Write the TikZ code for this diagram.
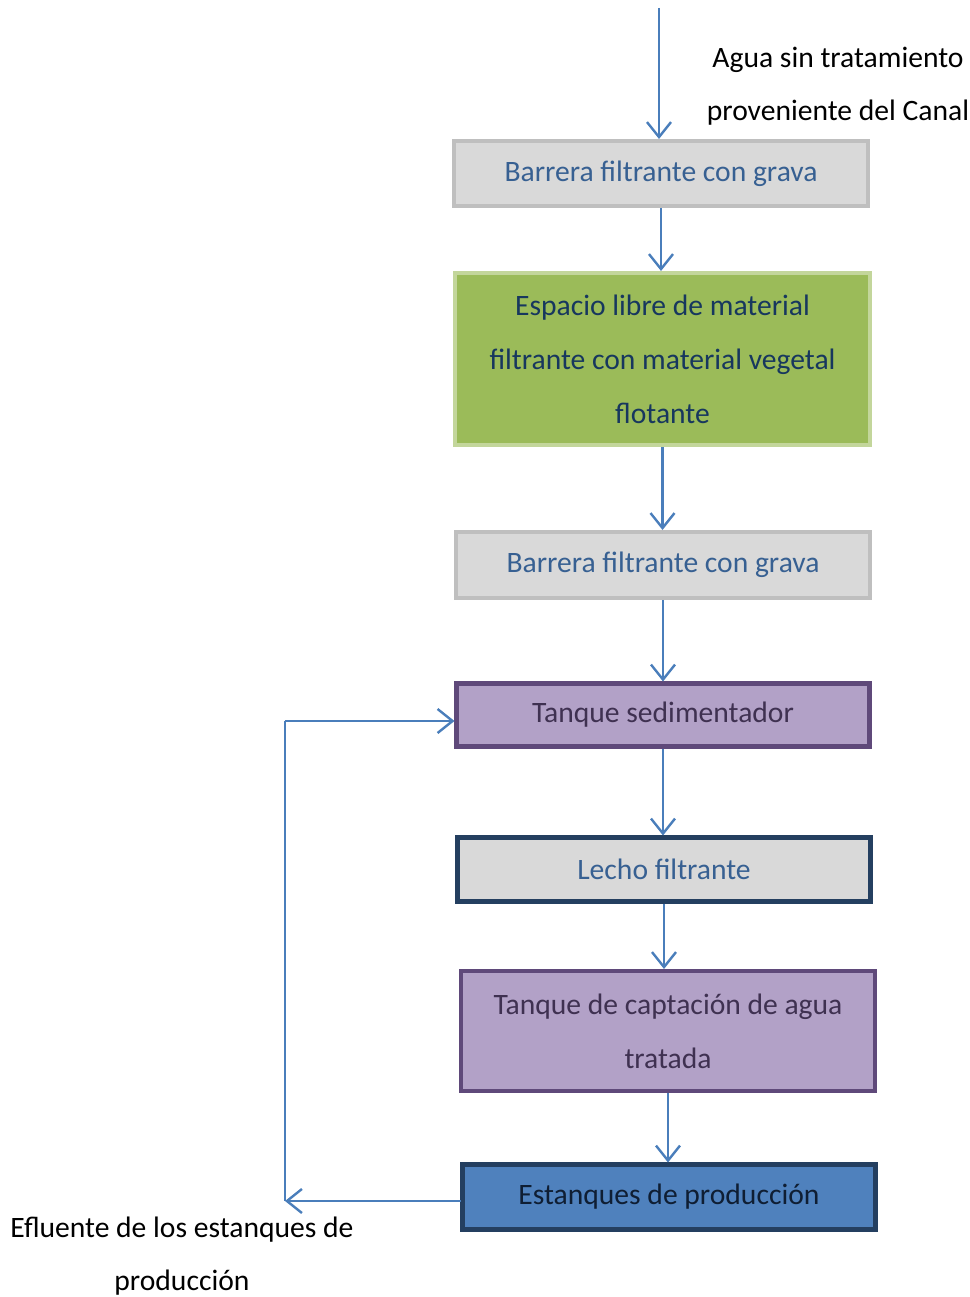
\documentclass[tikz,border=0pt]{standalone}
\usepackage{fontspec}
\setmainfont{Carlito}
\usetikzlibrary{arrows.meta}
\definecolor{arrowblue}{HTML}{4A7EBB}
\definecolor{grayfill}{HTML}{D9D9D9}
\definecolor{grayline}{HTML}{BFBFBF}
\definecolor{bluetext}{HTML}{376092}
\definecolor{greenfill}{HTML}{9BBB59}
\definecolor{greenline}{HTML}{C3D69B}
\definecolor{navytext}{HTML}{17375E}
\definecolor{purplefill}{HTML}{B2A1C7}
\definecolor{purpleline}{HTML}{5F497A}
\definecolor{purpletext}{HTML}{3F3151}
\definecolor{navyline}{HTML}{243F60}
\definecolor{bluefill}{HTML}{4F81BD}
\definecolor{darktext}{HTML}{0F1E33}
\begin{document}
\begin{tikzpicture}[x=1pt,y=-1pt,
  box/.style={rectangle, draw, inner sep=0pt, outer sep=2pt, minimum width=414pt,
    align=center, font=\fontsize{29.6}{54}\selectfont},
  graybox/.style={box, fill=grayfill, draw=grayline, line width=4pt, text=bluetext, minimum height=65pt},
  greenbox/.style={box, fill=greenfill, draw=greenline, line width=4pt, text=navytext, minimum height=172pt},
  purplebox/.style={box, fill=purplefill, draw=purpleline, line width=5pt, text=purpletext},
  lechobox/.style={box, fill=grayfill, draw=navyline, line width=5pt, text=bluetext, minimum height=64pt},
  estbox/.style={box, fill=bluefill, draw=navyline, line width=5pt, text=darktext, minimum height=65pt},
  lbl/.style={align=center, font=\fontsize{29.6}{53}\selectfont, inner sep=0pt},
  arr/.style={draw=arrowblue, line width=2.4pt, -{Straight Barb[length=15pt,width=24pt,line width=2.4pt]}},
  ln/.style={draw=arrowblue, line width=2.4pt}
]
\useasboundingbox (0,0) rectangle (969,1297);

\node[graybox] (b1) at (661,173.5) {Barrera filtrante con grava};
\node[greenbox, minimum width=415pt] (b2) at (662.5,359) {Espacio libre de material\\filtrante con material vegetal\\flotante};
\node[graybox, minimum height=66pt] (b3) at (663,565) {Barrera filtrante con grava};
\node[purplebox, minimum width=413pt, minimum height=63pt] (b4) at (663,715) {Tanque sedimentador};
\node[lechobox, minimum width=413pt] (b5) at (664,869.5) {Lecho filtrante};
\node[purplebox, line width=4pt, minimum height=120pt] (b6) at (668,1031) {Tanque de captación de agua\\tratada};
\node[estbox, minimum width=413pt] (b7) at (669,1197) {Estanques de producción};

\node[lbl] (lin) at (838,86) {Agua sin tratamiento\\proveniente del Canal};
\node[lbl] (lout) at (182,1256) {Efluente de los estanques de\\producción};

\coordinate (top) at (659,8);
\draw[arr] (top) -- (top |- b1.north);
\draw[arr] (b1.south) -- (b1.south |- b2.north);
\draw[arr] (b2.south) -- (b2.south |- b3.north);
\draw[arr] (b3.south) -- (b3.south |- b4.north);
\draw[arr] (b4.south) -- (b4.south |- b5.north);
\draw[arr] (b5.south) -- (b5.south |- b6.north);
\draw[arr] (b6.south) -- (b6.south |- b7.north);

\coordinate (fb) at (285,1201);
\coordinate (fbt) at (285,721);
\draw[arr] (fb -| b7.west) -- (fb);
\draw[ln] (fb) -- (fbt);
\draw[arr] (fbt) -- (fbt -| b4.west);
\end{tikzpicture}
\end{document}
